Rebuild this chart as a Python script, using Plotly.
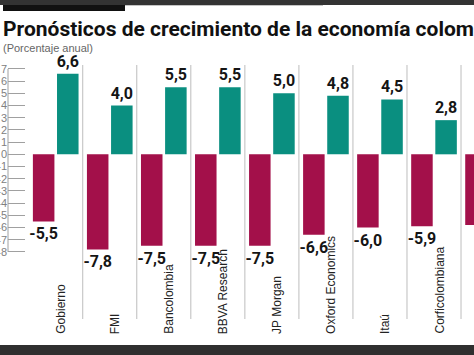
import plotly.graph_objects as go

# ---- data ----
categories = ["Gobierno", "FMI", "Bancolombia", "BBVA Research", "JP Morgan",
              "Oxford Economics", "Itaú", "Corficolombiana", "Fedesarrollo"]
pessimistic = [-5.5, -7.8, -7.5, -7.5, -7.5, -6.6, -6.0, -5.9, -5.8]
optimistic = [6.6, 4.0, 5.5, 5.5, 5.0, 4.8, 4.5, 2.8, None]
y_ticks = list(range(-8, 8))
title_text = "Pronósticos de crecimiento de la economía colombiana"
subtitle_text = "(Porcentaje anual)"

CRIMSON = "#a3104a"
TEAL = "#0a8f80"

W, H = 474, 355
ML, MR, MT, MB = 8, 0, 60, 35
PW, PH = W - ML - MR, H - MT - MB


def px_x(px):
    return (px - ML) / PW


def px_y(py):
    return (H - MB - py) / PH


def fmt(v):
    return "" if v is None else f"{v:.1f}".replace(".", ",")


fig = go.Figure()
fig.add_trace(go.Bar(
    x=categories, y=pessimistic, marker_color=CRIMSON, marker_line_width=0,
    text=[fmt(v) for v in pessimistic], textposition="outside",
    textfont=dict(family="Roboto", size=16, color="#151515", weight=700),
    constraintext="none", cliponaxis=False, hoverinfo="skip",
))
fig.add_trace(go.Bar(
    x=categories, y=optimistic, marker_color=TEAL, marker_line_width=0,
    text=[fmt(v) for v in optimistic], textposition="outside",
    textfont=dict(family="Roboto", size=16, color="#151515", weight=700),
    constraintext="none", cliponaxis=False, hoverinfo="skip",
))

shapes = []
# group separators
for i in range(len(categories) - 1):
    shapes.append(dict(type="line", xref="x", yref="paper", x0=i + 0.5, x1=i + 0.5,
                       y0=px_y(319), y1=px_y(65), line=dict(color="#bdbdbd", width=1)))
# y axis line
shapes.append(dict(type="line", xref="paper", yref="y", x0=0, x1=0, y0=-8, y1=7,
                   line=dict(color="#a0a0a0", width=1)))
# top frame
shapes.append(dict(type="rect", xref="paper", yref="paper", x0=px_x(0), x1=px_x(W),
                   y0=px_y(5), y1=px_y(0), fillcolor="#333333", line_width=0, layer="above"))
shapes.append(dict(type="rect", xref="paper", yref="paper", x0=px_x(125), x1=px_x(323),
                   y0=px_y(6), y1=px_y(5), fillcolor="#c4c4c4", line_width=0))
shapes.append(dict(type="rect", xref="paper", yref="paper", x0=px_x(3), x1=px_x(125),
                   y0=px_y(11), y1=px_y(5), fillcolor="#111111", line_width=0))
# bottom frame
shapes.append(dict(type="rect", xref="paper", yref="paper", x0=px_x(0), x1=px_x(W),
                   y0=px_y(H), y1=px_y(345), fillcolor="#2f2f2f", line_width=0))

annotations = []
annotations.append(dict(text=f"<b>{title_text}</b>", xref="paper", yref="paper",
                        x=px_x(1), y=px_y(29), xanchor="left", yanchor="middle",
                        showarrow=False,
                        font=dict(family="Roboto", size=21, color="#111111", weight=900)))
annotations.append(dict(text=subtitle_text, xref="paper", yref="paper",
                        x=px_x(1), y=px_y(48), xanchor="left", yanchor="middle",
                        showarrow=False,
                        font=dict(family="Liberation Sans", size=11, color="#666666")))
for c in categories:
    annotations.append(dict(text=c, xref="x", yref="paper", x=c, xshift=5,
                            y=px_y(336), xanchor="center", yanchor="bottom",
                            textangle=-90, showarrow=False,
                            font=dict(family="Liberation Sans", size=12, color="#222222")))

fig.update_layout(
    width=W, height=H,
    margin=dict(l=ML, r=MR, t=MT, b=MB, autoexpand=False),
    paper_bgcolor="white", plot_bgcolor="white",
    barmode="group", bargap=0.107, bargroupgap=0.108,
    showlegend=False,
    shapes=shapes, annotations=annotations,
    xaxis=dict(type="category", range=[-0.883, 7.74], showticklabels=False,
               showgrid=False, zeroline=False, showline=False, ticks=""),
    yaxis=dict(range=[-13.58, 7.73], tickvals=y_ticks, ticktext=[str(v) for v in y_ticks],
               ticks="inside", ticklen=17, tickcolor="#a0a0a0", tickwidth=1,
               showgrid=False, zeroline=False, showline=False, automargin=False,
               tickfont=dict(family="Liberation Sans", size=11, color="#808080")),
)

fig.write_html("out.html", config={"displayModeBar": False},
               post_script="document.body.style.margin='0';document.body.style.overflow='hidden';")
